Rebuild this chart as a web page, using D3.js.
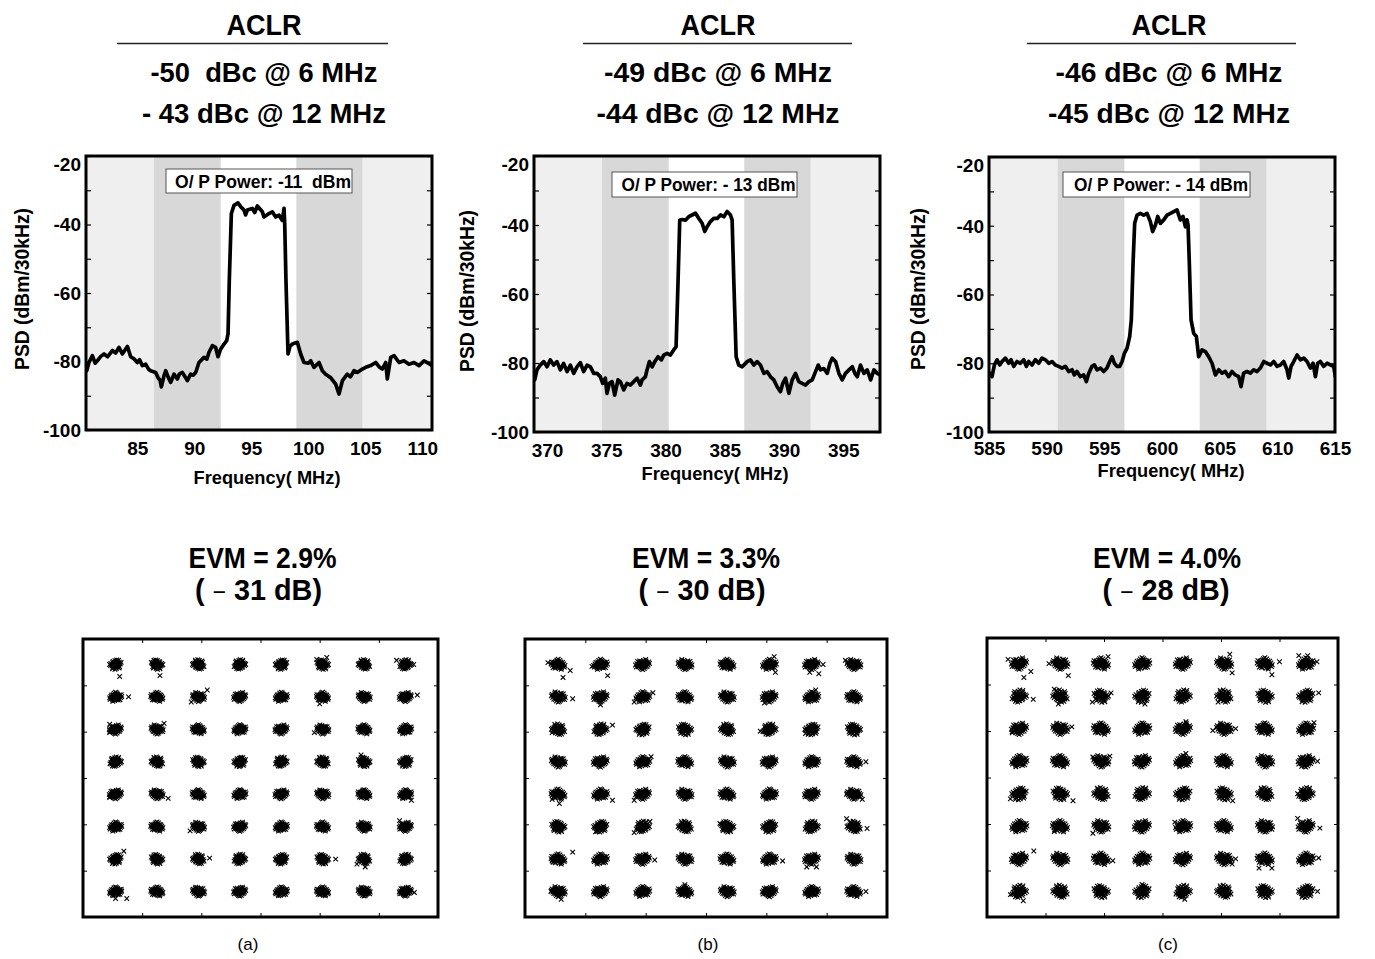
<!DOCTYPE html>
<html><head><meta charset="utf-8">
<script src="https://cdn.jsdelivr.net/npm/d3@7"></script>
<style>
body{margin:0;background:#fff}
svg{display:block}
text{font-family:"Liberation Sans",Arial,Helvetica,sans-serif}
</style></head>
<body><svg id="chart" width="1375" height="959"></svg>
<script>
// ---------------- DATA ----------------
const psdA = [[80.56,-82.7],[80.76,-80.3],[81.06,-78.3],[81.3,-80.5],[81.49,-79.8],[81.8,-78.5],[82.08,-77.8],[82.4,-78.6],[82.81,-76.8],[83.1,-77.5],[83.39,-75.9],[83.69,-77.8],[84.13,-75.6],[84.42,-78.6],[84.7,-79.2],[85.0,-80.3],[85.2,-79.5],[85.44,-81.2],[85.73,-80.8],[86.0,-82.3],[86.17,-82.7],[86.61,-83.2],[86.82,-84.7],[87.0,-85.5],[87.11,-87.4],[87.34,-84.2],[87.49,-82.7],[87.7,-84.5],[87.93,-86.1],[88.22,-83.7],[88.51,-85.1],[88.7,-83.6],[88.95,-83.2],[89.2,-84.5],[89.39,-85.6],[89.68,-83.7],[89.9,-84.0],[90.12,-83.2],[90.41,-80.3],[90.85,-78.8],[91.1,-79.3],[91.29,-77.3],[91.58,-75.4],[91.87,-75.9],[92.08,-78.6],[92.31,-76.4],[92.61,-74.9],[92.84,-73.9],[92.96,-71.9],[93.07,-56.3],[93.25,-36.8],[93.48,-34.4],[93.83,-33.7],[94.07,-34.8],[94.36,-35.8],[94.5,-37.2],[94.65,-35.8],[95.09,-35.3],[95.3,-36.5],[95.53,-34.6],[95.97,-36.3],[96.11,-37.8],[96.55,-36.8],[96.84,-36.3],[97.14,-37.8],[97.43,-37.3],[97.72,-38.8],[97.87,-35.3],[97.93,-39.7],[98.04,-56.3],[98.22,-77.8],[98.4,-75.5],[98.6,-74.9],[99.04,-74.4],[99.33,-77.8],[99.62,-80.3],[100.0,-80.5],[100.21,-79.8],[100.5,-81.7],[100.94,-80.3],[101.23,-82.7],[101.52,-83.7],[101.96,-84.7],[102.4,-86.6],[102.69,-89.5],[102.99,-85.6],[103.42,-83.7],[103.7,-84.5],[104.01,-82.7],[104.3,-83.2],[104.74,-82.2],[105.03,-81.7],[105.47,-81.2],[105.91,-80.3],[106.2,-81.5],[106.49,-82.2],[106.79,-80.3],[106.93,-85.1],[107.23,-78.8],[107.52,-78.3],[107.96,-80.3],[108.39,-79.8],[108.83,-80.8],[109.27,-80.3],[109.71,-81.2],[110.15,-79.8],[110.59,-80.6],[110.88,-81.2]];

const psdB = [[368.96,-84.9],[369.15,-82.0],[369.43,-80.6],[369.72,-79.6],[370.0,-81.1],[370.28,-79.1],[370.56,-80.6],[370.84,-79.6],[371.12,-82.0],[371.4,-80.1],[371.69,-82.5],[371.97,-80.6],[372.25,-83.0],[372.53,-81.1],[372.81,-79.9],[373.09,-82.5],[373.38,-80.6],[373.66,-81.1],[373.94,-83.0],[374.22,-83.0],[374.5,-84.0],[374.7,-85.9],[374.92,-84.4],[375.06,-88.8],[375.26,-85.9],[375.49,-85.4],[375.71,-89.3],[375.99,-84.9],[376.19,-85.4],[376.47,-87.8],[376.75,-85.9],[377.04,-86.4],[377.32,-85.4],[377.6,-84.4],[377.88,-86.4],[378.02,-84.9],[378.3,-84.0],[378.44,-82.0],[378.64,-79.6],[378.87,-81.1],[379.09,-79.6],[379.37,-78.2],[379.65,-79.1],[379.85,-77.7],[380.13,-77.2],[380.41,-77.7],[380.69,-76.2],[380.89,-75.3],[381.06,-55.9],[381.2,-38.6],[381.4,-38.4],[381.68,-38.6],[381.96,-37.6],[382.24,-37.1],[382.53,-36.6],[382.81,-38.1],[383.09,-39.5],[383.31,-41.9],[383.51,-40.5],[383.79,-39.0],[384.07,-38.1],[384.36,-38.1],[384.64,-37.1],[384.92,-37.6],[385.2,-36.1],[385.48,-37.1],[385.62,-38.6],[385.76,-55.9],[385.96,-78.2],[386.18,-80.6],[386.47,-81.1],[386.89,-79.6],[387.17,-79.1],[387.45,-80.6],[387.73,-79.6],[388.01,-80.6],[388.3,-83.0],[388.58,-82.5],[388.86,-84.0],[389.14,-84.9],[389.42,-86.9],[389.7,-88.3],[389.9,-85.9],[390.13,-84.4],[390.41,-88.8],[390.69,-84.9],[390.97,-83.0],[391.25,-85.4],[391.53,-85.9],[391.82,-86.4],[392.1,-85.4],[392.38,-84.9],[392.66,-82.5],[392.89,-80.6],[393.08,-82.0],[393.36,-81.6],[393.65,-83.0],[393.87,-80.1],[394.07,-78.6],[394.35,-79.6],[394.63,-83.0],[394.91,-84.9],[395.19,-83.0],[395.48,-82.0],[395.76,-81.1],[395.98,-83.0],[396.18,-84.0],[396.46,-80.6],[396.74,-83.0],[397.02,-82.0],[397.31,-84.9],[397.59,-82.0],[397.87,-83.0],[398.15,-83.5]];

const psdC = [[585.06,-82.9],[585.26,-83.9],[585.47,-80.5],[585.70,-79.0],[585.93,-80.5],[586.13,-79.5],[586.42,-78.5],[586.71,-80.0],[586.91,-79.0],[587.14,-80.9],[587.43,-79.5],[587.72,-80.0],[588.01,-79.0],[588.24,-80.9],[588.44,-79.5],[588.73,-80.5],[589.02,-79.0],[589.31,-80.0],[589.6,-78.5],[589.89,-79.0],[590.18,-80.0],[590.47,-79.5],[590.75,-80.5],[591.04,-80.9],[591.33,-81.4],[591.62,-80.9],[591.91,-82.4],[592.2,-81.9],[592.4,-83.4],[592.63,-82.4],[592.92,-83.9],[593.21,-83.4],[593.44,-85.3],[593.65,-82.9],[593.93,-80.9],[594.14,-80.5],[594.37,-81.9],[594.66,-81.4],[594.95,-82.4],[595.23,-81.4],[595.47,-79.5],[595.67,-78.1],[595.87,-80.0],[596.1,-80.9],[596.33,-80.9],[596.54,-79.5],[596.74,-77.1],[596.97,-75.6],[597.2,-72.2],[597.34,-67.4],[597.49,-50.9],[597.63,-39.3],[597.84,-36.9],[598.12,-36.4],[598.41,-36.9],[598.7,-36.4],[598.99,-38.8],[599.19,-41.7],[599.43,-39.8],[599.63,-37.3],[599.86,-39.3],[600.15,-38.3],[600.44,-36.9],[600.73,-36.4],[601.02,-35.9],[601.3,-35.4],[601.45,-36.9],[601.59,-38.3],[601.82,-37.3],[602.03,-40.3],[602.17,-38.3],[602.26,-39.8],[602.37,-50.9],[602.52,-67.4],[602.75,-71.3],[602.98,-72.2],[603.18,-78.1],[603.47,-76.1],[603.76,-76.6],[604.05,-78.1],[604.34,-80.0],[604.63,-83.4],[604.92,-81.9],[605.21,-82.9],[605.49,-82.4],[605.78,-83.9],[606.07,-82.4],[606.36,-83.4],[606.65,-83.9],[606.85,-86.8],[607.08,-82.9],[607.37,-82.4],[607.66,-82.9],[607.95,-81.9],[608.24,-82.4],[608.53,-81.4],[608.82,-79.5],[609.11,-80.0],[609.4,-80.5],[609.69,-79.5],[609.97,-80.9],[610.26,-80.5],[610.55,-79.5],[610.84,-81.9],[610.99,-84.3],[611.19,-80.9],[611.42,-79.5],[611.71,-77.6],[612.0,-79.0],[612.29,-78.5],[612.58,-79.5],[612.87,-81.4],[613.1,-80.0],[613.3,-83.9],[613.5,-80.0],[613.73,-79.5],[614.02,-80.9],[614.31,-80.0],[614.6,-80.5],[614.89,-80.9],[615.03,-83.9]];

// adjacent-channel band edges (MHz): darkStart, channelStart, channelEnd, darkEnd
const bandsA = [86.46, 92.32, 98.95, 104.74];
const bandsB = [374.64, 380.27, 386.64, 392.24];
const bandsC = [590.96, 596.74, 603.27, 609.05];

const xTicksA = [85, 90, 95, 100, 105, 110];
const xTicksB = [370, 375, 380, 385, 390, 395];
const xTicksC = [585, 590, 595, 600, 605, 610, 615];
const yTickLabels = [-20, -40, -60, -80, -100];
const yTickMarks = [-20, -30, -40, -50, -60, -70, -80, -90, -100];
const psdDomain = [-100, -20];

const aclrTitle = "ACLR";
const aclr6 = ["-50  dBc @ 6 MHz", "-49 dBc @ 6 MHz", "-46 dBc @ 6 MHz"];
const aclr12 = ["- 43 dBc @ 12 MHz", "-44 dBc @ 12 MHz", "-45 dBc @ 12 MHz"];
const powerLabels = ["O/ P Power: -11  dBm", "O/ P Power: - 13 dBm", "O/ P Power: - 14 dBm"];
const evmLabels = ["EVM = 2.9%", "EVM = 3.3%", "EVM = 4.0%"];
const evmDb = ["31", "30", "28"];
const panelLetters = ["(a)", "(b)", "(c)"];
const yAxisLabel = "PSD (dBm/30kHz)";
const xAxisLabel = "Frequency( MHz)";

// 64-QAM constellation
const qamLevels = [-2.45, -1.75, -1.05, -0.35, 0.35, 1.05, 1.75, 2.45];
const conDomain = [-3, 3];
const conTicks = [-2, -1, 0, 1, 2];
const noiseSigma = [0.05, 0.056, 0.063];
// typical spread of received symbols around one ideal point (in units of sigma)
const cloud = [[0,0],[0.4,0.3],[-0.5,0.2],[0.2,-0.6],[-0.3,-0.4],[0.9,0.1],[-1.0,-0.1],[0.1,1.0],[-0.2,-1.1],[1.2,0.7],[-1.1,0.8],[0.8,-1.0],[-0.7,-1.2],[1.6,-0.2],[-1.7,0.3],[0.3,1.6],[-0.4,-1.7],[0.6,0.6],[-0.6,0.7],[0.7,-0.4],[-0.8,-0.5],[1.3,-0.8],[-1.3,-0.9],[1.0,1.3],[-0.9,1.4],[2.0,0.4],[-2.1,-0.2],[0.5,-1.6],[-0.1,0.5],[0.2,-0.2],[1.8,1.0],[-1.5,1.2],[0.0,-2.0],[0.9,1.9],[-1.9,-1.0],[1.4,0.2]];
// stray symbols: [column, row(top=0), dI, dQ]
const outliersA = [[0,0,0.07,-0.26],[1,0,0.05,-0.24],[5,0,-0.10,0.11],[5,0,0.07,0.15],[7,0,-0.15,0.09],[7,0,0.14,0],[0,1,0.22,0],[2,1,0.15,0.15],[2,1,-0.12,-0.11],[5,1,-0.05,-0.15],[7,1,0.20,0.04],[0,2,-0.10,0.11],[0,2,-0.10,-0.07],[1,2,0.12,0.13],[5,2,-0.14,-0.07],[6,3,-0.05,0.15],[0,4,-0.10,-0.07],[1,4,0.19,-0.09],[7,4,0.10,-0.13],[2,5,-0.14,-0.09],[7,5,-0.10,0.13],[0,6,0.14,0.17],[2,6,0.19,0.02],[5,6,0.22,0],[6,6,-0.12,-0.11],[6,6,0.02,-0.17],[0,7,0.19,-0.15],[0,7,0,-0.15],[7,7,0.15,-0.02]];
const outliersB = [[0,0,-0.17,0.04],[0,0,0.08,-0.28],[0,0,0.20,-0.13],[1,0,-0.14,-0.04],[1,0,0.12,-0.24],[5,0,0.08,0.17],[5,0,0.10,-0.17],[6,0,0.19,0],[6,0,-0.03,-0.17],[6,0,0.12,-0.20],[7,0,-0.14,0.09],[0,1,0.24,-0.04],[1,1,0,-0.17],[2,1,-0.14,-0.11],[2,1,0.17,0.09],[5,1,-0.08,-0.13],[6,1,0.07,0.15],[0,2,-0.10,-0.07],[1,2,0.20,0.09],[5,2,-0.15,-0.04],[6,2,-0.10,-0.09],[2,3,0.14,0.11],[7,3,0.20,0],[0,4,-0.10,-0.11],[0,4,0.02,-0.20],[1,4,0.20,-0.13],[2,4,-0.14,-0.13],[7,4,-0.12,0],[7,4,0.14,-0.11],[1,5,-0.08,-0.11],[2,5,-0.14,-0.13],[2,5,0.12,0.11],[4,5,-0.12,0.07],[7,5,-0.12,0.17],[7,5,0.22,-0.04],[0,6,0.24,0.15],[0,6,-0.10,-0.04],[2,6,0.20,-0.02],[5,6,0.22,-0.04],[6,6,-0.08,-0.17],[6,6,0.08,-0.17],[0,7,-0.12,0],[0,7,0.05,-0.17],[7,7,0.20,0],[3,7,0,0.15]];
const outliersC = [[0,0,-0.19,0.09],[0,0,0.08,-0.30],[0,0,0.20,-0.17],[1,0,-0.19,0],[1,0,0.14,-0.26],[2,0,0.12,0.15],[5,0,0.10,0.20],[5,0,0.14,-0.20],[6,0,0.25,0.04],[6,0,0.12,-0.24],[7,0,-0.12,0.17],[7,0,0.03,0.17],[7,0,0.19,0.04],[0,1,0.24,-0.07],[1,1,-0.10,0.15],[1,1,-0.03,-0.17],[2,1,-0.15,-0.13],[2,1,0.17,0.07],[3,1,0.05,-0.17],[5,1,-0.10,-0.13],[7,1,0.22,0.07],[0,2,-0.12,-0.09],[1,2,0.20,0.04],[4,2,0.05,0.15],[5,2,-0.19,-0.04],[5,2,0.20,0],[7,2,0.14,0.13],[2,3,-0.14,0.09],[2,3,0.15,0.11],[4,3,0.05,0.17],[7,3,-0.07,-0.11],[7,3,0.20,0],[0,4,-0.15,-0.11],[1,4,0.22,-0.15],[5,4,0.15,-0.15],[7,4,-0.14,0],[1,5,-0.10,-0.11],[2,5,-0.14,-0.15],[4,5,-0.14,0.09],[6,5,-0.08,-0.09],[7,5,-0.14,0.17],[7,5,0.24,-0.04],[0,6,0.25,0.17],[2,6,0.20,-0.04],[5,6,0.14,-0.11],[5,6,0.20,0],[6,6,-0.10,-0.20],[6,6,0.12,-0.20],[7,6,0.22,0.02],[0,7,-0.15,-0.07],[0,7,0.07,-0.20],[3,7,0,0.15],[4,7,0.03,-0.17],[7,7,0.20,0]];

// ---------------- LAYOUT ----------------
const layout = [
  {psd:psdA, bands:bandsA, xTicks:xTicksA, xDom:[80.5,110.85], plot:{l:86,r:432,t:156,b:430},
   titleX:264, rule:[117,388], w1:227, w2:244, box:{x:166,y:169,w:186,h:24}, boxTxt:{x:175,y:187.5,w:176},
   ylab:{x:22,y:289}, xlab:{x:267,y:484}, xtickY:455, evmX:262.5, parX:258.5,
   con:{l:83,r:438,t:639,b:917}, out:outliersA, letterX:248},
  {psd:psdB, bands:bandsB, xTicks:xTicksB, xDom:[368.9,398.1], plot:{l:534,r:880,t:156,b:432},
   titleX:718, rule:[583,852], w1:228, w2:243, box:{x:612,y:172,w:185,h:25}, boxTxt:{x:621.5,y:190.5,w:174},
   ylab:{x:467,y:291}, xlab:{x:715,y:480}, xtickY:457, evmX:706, parX:702,
   con:{l:525,r:887,t:639,b:917}, out:outliersB, letterX:708},
  {psd:psdC, bands:bandsC, xTicks:xTicksC, xDom:[585,615], plot:{l:989,r:1335,t:157,b:432},
   titleX:1169, rule:[1027,1296], w1:227, w2:242, box:{x:1063,y:172,w:187,h:25}, boxTxt:{x:1074,y:190.5,w:174},
   ylab:{x:918,y:289}, xlab:{x:1171,y:477}, xtickY:455, evmX:1167, parX:1166,
   con:{l:987,r:1338,t:638,b:917}, out:outliersC, letterX:1168}
];

const svg = d3.select("#chart");
svg.append("rect").attr("width",1375).attr("height",959).attr("fill","#fff");

layout.forEach((P, i) => {
  const g = svg.append("g");

  // ---- header ----
  g.append("text").attr("x",P.titleX).attr("y",35).attr("text-anchor","middle")
    .attr("font-size",29).attr("font-weight","bold").attr("textLength",75).attr("lengthAdjust","spacingAndGlyphs")
    .text(aclrTitle);
  g.append("line").attr("x1",P.rule[0]).attr("x2",P.rule[1]).attr("y1",43.5).attr("y2",43.5)
    .attr("stroke","#222").attr("stroke-width",1.6);
  g.append("text").attr("x",P.titleX).attr("y",82).attr("text-anchor","middle")
    .attr("font-size",28).attr("font-weight","bold").attr("textLength",P.w1).attr("lengthAdjust","spacingAndGlyphs")
    .style("white-space","pre").text(aclr6[i]);
  g.append("text").attr("x",P.titleX).attr("y",123).attr("text-anchor","middle")
    .attr("font-size",28).attr("font-weight","bold").attr("textLength",P.w2).attr("lengthAdjust","spacingAndGlyphs")
    .style("white-space","pre").text(aclr12[i]);

  // ---- spectrum plot ----
  const x = d3.scaleLinear().domain(P.xDom).range([P.plot.l, P.plot.r]);
  const y = d3.scaleLinear().domain(psdDomain).range([P.plot.b, P.plot.t]);
  const pw = P.plot.r - P.plot.l, ph = P.plot.b - P.plot.t;
  const clipId = "clip" + i;
  svg.append("clipPath").attr("id",clipId).append("rect")
    .attr("x",P.plot.l).attr("y",P.plot.t).attr("width",pw).attr("height",ph);

  const pg = g.append("g").attr("clip-path",`url(#${clipId})`);
  pg.append("rect").attr("x",P.plot.l).attr("y",P.plot.t).attr("width",pw).attr("height",ph).attr("fill","#efefef");
  pg.append("rect").attr("x",x(P.bands[0])).attr("y",P.plot.t).attr("width",x(P.bands[3])-x(P.bands[0])).attr("height",ph).attr("fill","#d8d8d8");
  pg.append("rect").attr("x",x(P.bands[1])).attr("y",P.plot.t).attr("width",x(P.bands[2])-x(P.bands[1])).attr("height",ph).attr("fill","#ffffff");

  pg.append("path").datum(P.psd)
    .attr("d", d3.line().x(d=>x(d[0])).y(d=>y(d[1])))
    .attr("fill","none").attr("stroke","#000").attr("stroke-width",3.7)
    .attr("stroke-linejoin","round").attr("stroke-linecap","round");

  // inward tick marks
  const tl = g.append("g").attr("transform",`translate(${P.plot.l},0)`)
    .call(d3.axisRight(y).tickValues(yTickMarks).tickSize(5).tickFormat(""));
  const tr = g.append("g").attr("transform",`translate(${P.plot.r},0)`)
    .call(d3.axisLeft(y).tickValues(yTickMarks).tickSize(5).tickFormat(""));
  [tl,tr].forEach(a=>{a.select(".domain").remove(); a.selectAll("line").attr("stroke","#000").attr("stroke-width",1.2);});

  // y labels
  const yl = g.append("g").attr("transform",`translate(${P.plot.l-3},0)`)
    .call(d3.axisLeft(y).tickValues(yTickLabels).tickSize(0).tickPadding(2).tickFormat(d=>String(d)));
  yl.select(".domain").remove();
  yl.selectAll("text").attr("font-size",19).attr("font-weight","bold").attr("fill","#000")
    .attr("font-family",'"Liberation Sans",Arial,sans-serif')
    .attr("dy", d => d === -20 ? "0.78em" : "0.34em");

  // x labels
  const xl = g.append("g").attr("transform",`translate(0,${P.plot.b})`)
    .call(d3.axisBottom(x).tickValues(P.xTicks).tickSize(0).tickPadding(0).tickFormat(d=>String(d)));
  xl.select(".domain").remove();
  xl.selectAll("text").attr("font-size",19).attr("font-weight","bold").attr("fill","#000")
    .attr("font-family",'"Liberation Sans",Arial,sans-serif')
    .attr("dy",null).attr("y",P.xtickY - P.plot.b);

  // frame
  g.append("rect").attr("x",P.plot.l).attr("y",P.plot.t).attr("width",pw).attr("height",ph)
    .attr("fill","none").attr("stroke","#000").attr("stroke-width",3);

  // power box
  g.append("rect").attr("x",P.box.x).attr("y",P.box.y).attr("width",P.box.w).attr("height",P.box.h)
    .attr("fill","#fff").attr("stroke","#555").attr("stroke-width",1);
  g.append("text").attr("x",P.boxTxt.x).attr("y",P.boxTxt.y).attr("font-size",18).attr("font-weight","bold")
    .attr("textLength",P.boxTxt.w).attr("lengthAdjust","spacingAndGlyphs").style("white-space","pre")
    .text(powerLabels[i]);

  // axis titles
  g.append("text").attr("transform",`translate(${P.ylab.x},${P.ylab.y}) rotate(-90)`)
    .attr("text-anchor","middle").attr("dy","0.36em").attr("font-size",20).attr("font-weight","bold")
    .attr("textLength",162).attr("lengthAdjust","spacingAndGlyphs").text(yAxisLabel);
  g.append("text").attr("x",P.xlab.x).attr("y",P.xlab.y).attr("text-anchor","middle")
    .attr("font-size",19).attr("font-weight","bold").attr("textLength",147).attr("lengthAdjust","spacingAndGlyphs")
    .text(xAxisLabel);

  // ---- EVM text ----
  g.append("text").attr("x",P.evmX).attr("y",568).attr("text-anchor","middle")
    .attr("font-size",30).attr("font-weight","bold").attr("textLength",148).attr("lengthAdjust","spacingAndGlyphs")
    .text(evmLabels[i]);
  const pt = g.append("text").attr("x",P.parX).attr("y",600).attr("text-anchor","middle")
    .attr("font-size",30).attr("font-weight","bold").attr("textLength",127).attr("lengthAdjust","spacingAndGlyphs")
    .style("white-space","pre");
  pt.append("tspan").text("( ");
  pt.append("tspan").attr("font-weight","normal").attr("font-size",24).text("\u2212");
  pt.append("tspan").text(" " + evmDb[i] + " dB)");

  // ---- constellation ----
  const cx = d3.scaleLinear().domain(conDomain).range([P.con.l, P.con.r]);
  const cy = d3.scaleLinear().domain(conDomain).range([P.con.b, P.con.t]);
  const s = noiseSigma[i];
  const pts = [];
  qamLevels.forEach((qv, r) => {            // r: row index from top
    const Q = qamLevels[7 - r];
    qamLevels.forEach((I, c) => {
      const fx = (c + r) % 2 ? -1 : 1;
      const fy = (Math.floor(c / 2) + r + i) % 2 ? -1 : 1;
      const sw = (c * 3 + r + i) % 3 === 0;
      cloud.forEach(o => {
        const a = sw ? o[1] : o[0], b = sw ? o[0] : o[1];
        pts.push([I + fx * a * s, Q + fy * b * s]);
      });
    });
  });
  P.out.forEach(o => pts.push([qamLevels[o[0]] + o[2], qamLevels[7 - o[1]] + o[3]]));

  const cg = g.append("g");
  const m = 2.3;
  cg.selectAll("path.sym").data(pts).join("path").attr("class","sym")
    .attr("d", d => {const X = cx(d[0]), Y = cy(d[1]);
      return `M${X-m},${Y-m}L${X+m},${Y+m}M${X-m},${Y+m}L${X+m},${Y-m}`;})
    .attr("stroke","#000").attr("stroke-width",1.1).attr("fill","none");

  const ax = [
    [d3.axisTop(cx), `translate(0,${P.con.b})`],
    [d3.axisBottom(cx), `translate(0,${P.con.t})`],
    [d3.axisRight(cy), `translate(${P.con.l},0)`],
    [d3.axisLeft(cy), `translate(${P.con.r},0)`]
  ];
  ax.forEach(([gen, tr2]) => {
    const a = g.append("g").attr("transform",tr2).call(gen.tickValues(conTicks).tickSize(4).tickFormat(""));
    a.select(".domain").remove();
    a.selectAll("line").attr("stroke","#000").attr("stroke-width",1);
  });
  g.append("rect").attr("x",P.con.l).attr("y",P.con.t).attr("width",P.con.r-P.con.l).attr("height",P.con.b-P.con.t)
    .attr("fill","none").attr("stroke","#000").attr("stroke-width",3);

  g.append("text").attr("x",P.letterX).attr("y",950).attr("text-anchor","middle")
    .attr("font-size",17).text(panelLetters[i]);
});
</script></body></html>
